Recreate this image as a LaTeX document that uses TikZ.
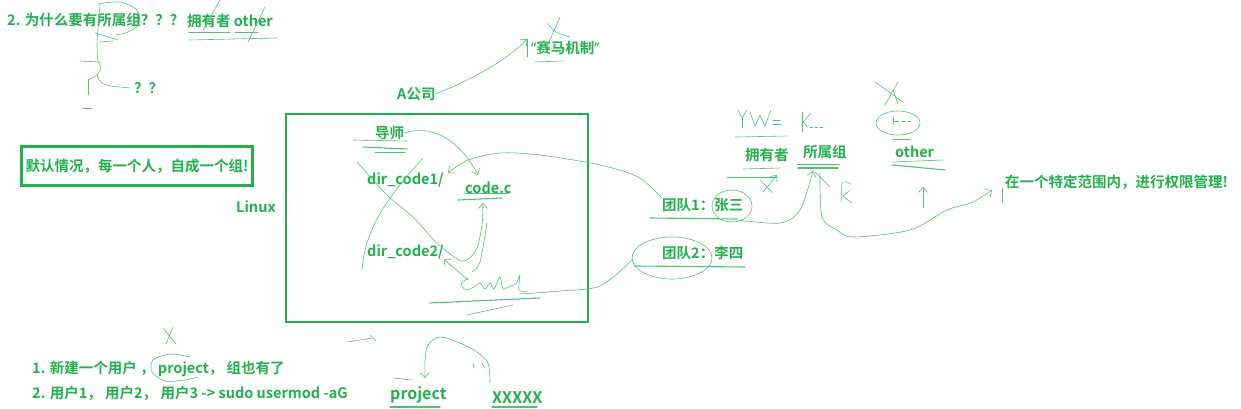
\documentclass[tikz,border=0pt]{standalone}
\usepackage{fontspec}
\setmainfont{Noto Sans CJK SC}[BoldFont={Noto Sans CJK SC Bold}]
\newfontfamily\latinf{Noto Sans}
\usetikzlibrary{arrows.meta}
\definecolor{ink}{RGB}{34,177,76}
\definecolor{penc}{RGB}{80,195,115}

\begin{document}
\begin{tikzpicture}[x=1pt,y=1pt]
\tikzstyle{every node}+=[inner sep=0pt]
\tikzstyle{txt}=[anchor=west,text=ink,font=\fontsize{14.5}{17}\selectfont\bfseries]
\tikzstyle{bigtxt}=[anchor=west,text=ink,font=\fontsize{16}{19}\selectfont\bfseries]
\tikzstyle{pen}=[draw=penc,line width=0.6pt,line cap=round,line join=round]
\tikzstyle{penbar}=[pen,-{Straight Barb[length=5pt,width=9pt]}]
\tikzstyle{uline}=[draw=penc,line width=1.1pt,line cap=round]
\tikzstyle{frame}=[draw=ink,line width=2.6pt]
\fill[white] (0,0) rectangle (1241,-409);
\useasboundingbox (0,0) rectangle (1241,-409);

% texts
\node[txt] (why) at (7,-20) {2. 为什么要有所属组？？？};
\node[txt] (ownother) at (187,-21) {拥有者 other};
\node[txt] (qq) at (134,-88) {？？};
\node[txt] (horse) at (531,-48) {{\latinf“}赛马机制{\latinf”}};
\node[txt] (company) at (397,-94) {A公司};
\node[txt,frame,anchor=center,minimum width=231,minimum height=39,inner sep=4pt] (dflt) at (137,-166) {默认情况，每一个人，自成一个组!};
\node[txt] (linux) at (236,-207) {Linux};
\draw[frame] (286,-114) rectangle (588,-322);
\node[txt] (tutor) at (375,-133) {导师};
\node[txt] (dir1) at (367,-180) {dir\_code1/};
\node[txt] (codec) at (465,-188) {code.c};
\node[txt] (dir2) at (367,-252) {dir\_code2/};
\node[txt] (team1) at (662,-205) {团队1：张三};
\node[txt] (team2) at (662,-253) {团队2：李四};
\node[txt] (owner) at (745,-155) {拥有者};
\node[txt] (group) at (803,-152) {所属组};
\node[txt] (other) at (895,-152) {other};
\node[txt] (scope) at (1005,-182) {在一个特定范围内，进行权限管理!};
\node[txt] (step1) at (32,-369) {1. 新建一个用户 ， project， 组也有了};
\node[txt] (step2) at (32,-393) {2. 用户1， 用户2， 用户3 -> sudo usermod -aG};
\node[bigtxt] (proj) at (390,-395) {project};
\node[bigtxt] (xxx) at (492,-398) {XXXXX};

% scribbles top left
\draw[pen] plot[smooth] coordinates {(98,-4) (120,-2) (137,-10) (139,-24) (128,-32) (116,-35)};
\draw[pen] plot[smooth] coordinates {(100,-5) (98,-30) (97,-45) (98,-61) (101,-67) (97,-75) (88,-80)};
\draw[pen] (97,-75) .. controls (100,-88) and (115,-86) .. ([xshift=-4pt]qq.west);
\draw[pen] (95,-33) -- (118,-40);
\draw[pen] (100,-42) -- (113,-41);
\draw[pen] (80,-61) -- (100,-62);
\draw[pen] (88,-80) -- (88,-95);
\draw[pen] (83,-108) -- (92,-108);
\draw[pen] (189,-32) -- (230,-32);
\draw[pen] (235,-32) -- (258,-32);
\draw[pen] (189,-40) -- (277,-38);
\draw[pen] (220,0) -- (203,-30);
\draw[pen] (265,-7) -- (248,-42);

% A company
\draw[penbar] (company.east) .. controls (470,-80) and (505,-62) .. (527,-39);
\draw[pen] (527,-39) -- (527,-57);
\draw[pen] (560,-17) -- (549,-42);
\draw[pen] plot[smooth] coordinates {(547,-23) (556,-32) (570,-37)};
\draw[pen] (535,-62) -- (563,-61);

% inside the Linux box
\draw[pen] (353,-140) -- (407,-141);
\draw[uline] (363,-147) -- (407,-149);
\draw[pen] (375,-152) -- (405,-152);
\draw[penbar] (tutor.east) .. controls (440,-122) and (465,-150) .. (478,-175);
\draw[penbar] plot[smooth] coordinates {(team1.north west) (638,-177) (600,-165) (540,-155) (500,-153) (468,-160) (448,-173)};
\draw[pen] (423,-158) .. controls (385,-200) and (365,-230) .. (362,-270);
\draw[penbar] plot[smooth] coordinates {(357,-162) (387,-195) (413,-217) (437,-243) (462,-261) (476,-250) (482,-225) (483,-203)};
\draw[pen] plot[smooth] coordinates {(472,-272) (480,-262) (487,-223)};
\draw[uline] (458,-200) -- (502,-198);
\draw[pen] (465,-193) -- (508,-193);
\draw[pen] plot[smooth] coordinates {(468,-278) (461,-284) (466,-290) (474,-287) (480,-283) (485,-289) (490,-283) (494,-289) (500,-277) (503,-289) (510,-286) (516,-284) (520,-275) (519,-290) (528,-291)};
\draw[uline] (430,-303) -- (540,-298);
\draw[pen] (467,-315) -- (513,-305);
\draw[penbar] (468,-280) -- (dir2.south east);
\draw[pen] plot[smooth] coordinates {([xshift=-30pt]team2.south west) (600,-286) (560,-291) (520,-294)};

% right part
\draw[pen] (738,-110) -- (742,-118) -- (747,-110);
\draw[pen] (742,-118) -- (742,-128);
\draw[pen] (750,-112) -- (755,-126) -- (760,-115) -- (765,-126) -- (771,-110);
\draw[pen] (773,-120) -- (780,-120);
\draw[pen] (773,-124) -- (781,-124);
\draw[pen] (735,-137) -- (787,-136);
\draw[pen] (802,-112) -- (802,-132);
\draw[pen] (811,-113) -- (803,-122) -- (808,-127);
\draw[pen] (810,-127) -- (813,-127);
\draw[pen] (815,-127) -- (818,-127);
\draw[pen] (820,-127) -- (823,-127);
\draw[pen] (898,-123) ellipse (22 and 12);
\draw[pen] (893,-118) -- (893,-124);
\draw[pen] (893,-121) -- (899,-121);
\draw[pen] (902,-121) -- (905,-121);
\draw[pen] (908,-121) -- (911,-121);
\draw[pen] (893,-139) -- (910,-139);
\draw[pen] (875,-82) -- (903,-102);
\draw[pen] (898,-82) -- (885,-105);
\draw[pen] (893,-90) -- (898,-104);
\draw[pen] (743,-169) -- (780,-168);
\draw[pen] (727,-177) -- (777,-177);
\draw[penbar] (763,-192) -- (777,-175);
\draw[pen] (760,-180) -- (773,-193);
\draw[pen] (797,-164) -- (840,-164);
\draw[uline] (798,-168) -- (838,-168);
\draw[pen] (892,-162) -- (943,-160);
\draw[uline] (892,-165) -- (945,-170);
\draw[pen] (732,-206) ellipse (20 and 16);
\draw[uline] (650,-218) -- (737,-219);
\draw[penbar] plot[smooth] coordinates {(737,-220) (780,-223) (800,-210) (813,-171)};
\draw[pen] (815,-172) -- (830,-187);
\draw[pen] (842,-182) -- (841,-202);
\draw[pen] (845,-181) -- (851,-184);
\draw[pen] (850,-190) -- (843,-196) -- (852,-203);
\draw[penbar] plot[smooth] coordinates {(820,-173) (822,-217) (837,-230) (853,-237) (910,-230) (947,-210) (973,-202) (992,-190)};
\draw[pen] (1002,-188) -- (1002,-202);
\draw[penbar] (923,-208) -- (923,-187);
\draw[pen] (672,-258) ellipse (40 and 21);
\draw[uline] (635,-266) -- (745,-267);

% bottom
\draw[pen] (163,-328) -- (176,-344);
\draw[pen] (173,-327) -- (166,-344);
\draw[pen] plot[smooth] coordinates {(190,-357) (170,-354) (153,-360) (152,-372) (165,-381) (185,-380) (198,-377)};
\draw[pen] (348,-342) -- (372,-338);
\draw[pen] (370,-335) -- (376,-341);
\draw[penbar] plot[smooth] coordinates {(490,-382) (488,-363) (477,-352) (460,-343) (440,-337) (428,-345) (425,-360) (425,-378)};
\draw[pen] (393,-378) -- (412,-380);
\draw[pen] (473,-363) -- (474,-368);
\draw[pen] (482,-363) -- (485,-368);
\draw[uline] (390,-407) -- (440,-407);
\draw[uline] (492,-407) -- (537,-407);
\end{tikzpicture}
\end{document}
